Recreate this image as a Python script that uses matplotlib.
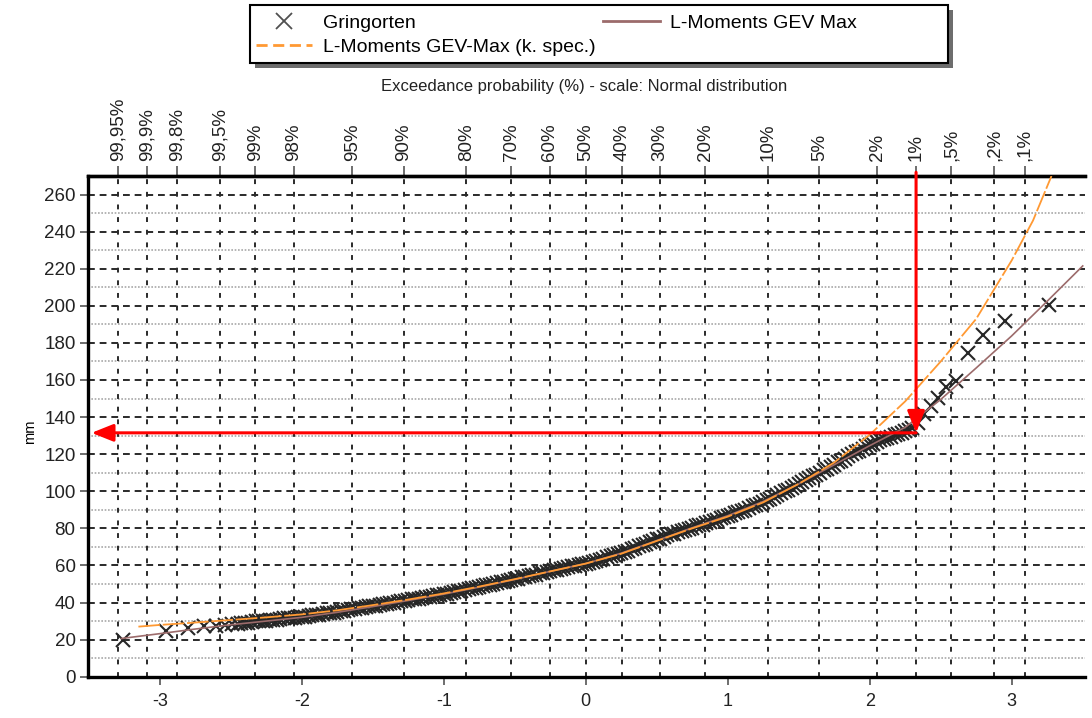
import matplotlib
matplotlib.use("Agg")
import matplotlib.pyplot as plt
from matplotlib.patches import Rectangle
from matplotlib.lines import Line2D
from statistics import NormalDist

plt.rcParams['font.family'] = ['Liberation Sans', 'DejaVu Sans']

# exceedance probabilities (%) shown on the top axis
exceed_pct = [99.95, 99.9, 99.8, 99.5, 99, 98, 95, 90, 80, 70, 60, 50,
              40, 30, 20, 10, 5, 2, 1, 0.5, 0.2, 0.1]
exceed_labels = ['99,95%', '99,9%', '99,8%', '99,5%', '99%', '98%', '95%', '90%',
                 '80%', '70%', '60%', '50%', '40%', '30%', '20%', '10%', '5%',
                 '2%', '1%', ',5%', ',2%', ',1%']

# Gringorten plotting positions (normal variate) and observed values (mm)
grin_x = [-3.26, -2.955, -2.80, -2.69, -2.607, -2.54, -2.49,
          -2.45, -2.40, -2.35, -2.30, -2.25, -2.20, -2.15, -2.10, -2.05, -2.00,
          -1.95, -1.90, -1.85, -1.80, -1.75, -1.70, -1.65, -1.60, -1.55, -1.50,
          -1.45, -1.40, -1.35, -1.30, -1.25, -1.20, -1.15, -1.10, -1.05, -1.00,
          -0.95, -0.90, -0.85, -0.80, -0.75, -0.70, -0.65, -0.60, -0.55, -0.50,
          -0.45, -0.40, -0.35, -0.30, -0.25, -0.20, -0.15, -0.10, -0.05, 0.00,
          0.05, 0.10, 0.15, 0.20, 0.25, 0.30, 0.35, 0.40, 0.45, 0.50,
          0.55, 0.60, 0.65, 0.70, 0.75, 0.80, 0.85, 0.90, 0.95, 1.00,
          1.05, 1.10, 1.15, 1.20, 1.25, 1.30, 1.35, 1.40, 1.45, 1.50,
          1.55, 1.60, 1.65, 1.70, 1.75, 1.80, 1.85, 1.90, 1.95, 2.00,
          2.05, 2.10, 2.15, 2.20, 2.25, 2.30,
          2.343, 2.385, 2.43, 2.48, 2.54, 2.607, 2.69, 2.80, 2.955, 3.26,
          -2.425, -2.375, -2.325, -2.275, -2.225, -2.175, -2.125, -2.075, -2.025,
          -1.975, -1.925, -1.875, -1.825, -1.775, -1.725, -1.675, -1.625, -1.575,
          -1.525, -1.475, -1.425, -1.375, -1.325, -1.275, -1.225, -1.175, -1.125,
          -1.075, -1.025, -0.975, -0.925, -0.875, -0.825, -0.775, -0.725, -0.675,
          -0.625, -0.575, -0.525, -0.475, -0.425, -0.375, -0.325, -0.275, -0.225,
          -0.175, -0.125, -0.075, -0.025, 0.025, 0.075, 0.125, 0.175, 0.225,
          0.275, 0.325, 0.375, 0.425, 0.475, 0.525, 0.575, 0.625, 0.675,
          0.725, 0.775, 0.825, 0.875, 0.925, 0.975, 1.025, 1.075, 1.125,
          1.175, 1.225, 1.275, 1.325, 1.375, 1.425, 1.475, 1.525, 1.575,
          1.625, 1.675, 1.725, 1.775, 1.825, 1.875, 1.925, 1.975, 2.025,
          2.075, 2.125, 2.175, 2.225, 2.275]
grin_y = [20.0, 24.8, 26.4, 27.4, 27.6, 28.0, 28.3,
          28.6, 29.1, 29.3, 29.9, 30.1, 30.7, 31.0, 31.5, 31.7, 32.3,
          32.7, 33.3, 33.7, 34.4, 34.9, 35.6, 36.3, 36.8, 37.5, 38.0,
          38.8, 39.3, 40.0, 40.6, 41.2, 41.9, 42.6, 43.2, 43.8, 44.6,
          45.2, 46.0, 46.8, 47.6, 48.4, 49.3, 50.0, 50.9, 51.7, 52.5,
          53.5, 54.3, 55.1, 56.0, 56.9, 57.8, 58.8, 59.6, 60.2, 60.9,
          62.0, 63.0, 64.3, 65.5, 66.7, 68.0, 69.6, 71.0, 72.6, 74.0,
          75.4, 76.8, 78.0, 79.3, 80.4, 81.6, 82.8, 84.0, 85.5, 86.8,
          88.2, 89.6, 91.0, 92.6, 94.2, 96.0, 98.0, 100.0, 102.0, 104.0,
          106.0, 108.0, 110.1, 112.2, 114.3, 116.5, 118.8, 121.0, 123.0, 125.0,
          126.6, 128.0, 129.5, 131.0, 132.3, 134.0,
          137.0, 141.5, 146.0, 150.5, 156.0, 159.5, 174.5, 184.0, 191.6, 200.6,
          29.0, 29.0, 29.8, 29.8, 30.6, 30.6, 31.4, 31.4, 32.1,
          32.4, 33.1, 33.4, 34.2, 34.5, 35.4, 35.8, 36.7, 37.0,
          37.9, 38.2, 39.2, 39.5, 40.5, 40.8, 41.7, 42.1, 43.0,
          43.4, 44.3, 44.8, 45.7, 46.3, 47.3, 47.9, 49.0, 49.5,
          50.6, 51.2, 52.2, 52.9, 54.0, 54.6, 55.7, 56.3, 57.5,
          58.2, 59.3, 59.8, 60.6, 61.3, 62.6, 63.5, 65.0, 65.9,
          67.5, 68.6, 70.4, 71.6, 73.4, 74.5, 76.2, 77.2, 78.8,
          79.7, 81.1, 82.0, 83.5, 84.6, 86.3, 87.3, 89.0, 90.1,
          91.9, 93.2, 95.2, 96.8, 99.1, 100.8, 103.1, 104.8, 107.1,
          108.8, 111.3, 113.0, 115.6, 117.4, 120.1, 121.8, 124.2, 125.6,
          127.4, 128.6, 130.4, 131.5, 133.3]

# L-Moments GEV Max
gev_x = [-3.27, -3.0, -2.75, -2.5, -2.25, -2.0, -1.75, -1.5, -1.25, -1.0, -0.75,
         -0.5, -0.25, 0.0, 0.25, 0.5, 0.75, 1.0, 1.25, 1.5, 1.75, 2.0, 2.25,
         2.5, 2.75, 3.0, 3.25, 3.5]
gev_y = [20.6, 23.2, 25.7, 28.0, 30.0, 32.0, 34.7, 37.8, 41.1, 44.5, 48.3,
         52.4, 56.8, 61.0, 66.6, 73.4, 80.3, 86.8, 94.5, 104.0, 114.3, 124.6, 134.5,
         149.5, 166.5, 183.8, 202.5, 221.5]

# L-Moments GEV-Max (k. spec.)
gevk_x = [-3.15, -3.0, -2.75, -2.5, -2.25, -2.0, -1.75, -1.5, -1.25, -1.0, -0.75,
          -0.5, -0.25, 0.0, 0.25, 0.5, 0.75, 1.0, 1.25, 1.5, 1.75, 2.0, 2.25,
          2.5, 2.75, 3.0, 3.15, 3.28]
gevk_y = [27.0, 27.9, 29.2, 30.6, 32.0, 33.6, 35.8, 38.6, 41.6, 44.9, 48.6,
          52.6, 56.8, 61.0, 66.3, 73.2, 80.0, 86.3, 94.0, 104.0, 115.5, 130.5, 148.5,
          170.0, 193.0, 224.5, 246.0, 270.0]

# design event (1 % exceedance)
event_p = 1
event_mm = 131.5

W, H = 1092, 718
fig = plt.figure(figsize=(W / 100, H / 100), dpi=100)
ax = fig.add_axes([88 / W, 41.3 / H, 997 / W, 500.7 / H])

nd = NormalDist()
top_pos = [nd.inv_cdf(1 - p / 100) for p in exceed_pct]

ax.set_xlim(-3.505, 3.516)
ax.set_ylim(0, 270)

# grid
for y in range(0, 261, 20):
    ax.axhline(y, color='#2a2a2a', lw=1.4, ls=(0, (3.5, 2.5)), zorder=1)
for y in range(10, 271, 20):
    ax.axhline(y, color='#a8a8a8', lw=1.2, ls=(0, (1, 1)), zorder=1)
for xp in top_pos:
    ax.axvline(xp, color='#2a2a2a', lw=1.4, ls=(0, (2.5, 4)), zorder=1)

ax.plot(grin_x, grin_y, ls='none', marker='x', ms=10, mew=1.5,
        color='#262626', zorder=3)
ax.plot(gev_x, gev_y, color='#9c6b6b', lw=1.2, zorder=4)
ax.plot(gevk_x, gevk_y, color='#ff9933', lw=1.3, ls=(0, (12, 1.5)), zorder=5)

# red reading arrows
z_event = nd.inv_cdf(1 - event_p / 100)
ax.annotate('', xy=(z_event, event_mm), xytext=(z_event, 272),
            arrowprops=dict(arrowstyle='-|>,head_length=0.55,head_width=0.22',
                            color='#ff0000', lw=2.2, mutation_scale=24,
                            shrinkA=0, shrinkB=0),
            annotation_clip=False, zorder=6)
ax.annotate('', xy=(-3.48, event_mm), xytext=(z_event, event_mm),
            arrowprops=dict(arrowstyle='-|>,head_length=0.55,head_width=0.22',
                            color='#ff0000', lw=2.2, mutation_scale=24,
                            shrinkA=0, shrinkB=0),
            annotation_clip=False, zorder=6)

# axes styling
for side in ['left', 'top', 'bottom']:
    ax.spines[side].set_linewidth(2.4)
    ax.spines[side].set_color('black')
ax.spines['right'].set_visible(False)

ax.set_yticks(range(0, 261, 20))
ax.set_xticks([-3, -2, -1, 0, 1, 2, 3])
ax.set_xticklabels(['-3', '-2', '-1', '0', '1', '2', '3'])
ax.tick_params(axis='y', labelsize=13.5, length=6, width=1.2, color='#555555',
               labelcolor='#222222', pad=3)
ax.tick_params(axis='x', labelsize=13, length=6, width=1.2, color='#555555',
               labelcolor='#222222', pad=6)

top = ax.secondary_xaxis('top')
top.set_xticks(top_pos)
top.set_xticklabels(exceed_labels, rotation=90, fontsize=13.5, color='#222222')
top.tick_params(length=7, width=1.2, color='#555555', pad=4)
top.spines['top'].set_linewidth(2.4)

fig.text(30 / W, 1 - 432 / H, 'mm', rotation=90, ha='center', va='center', fontsize=10.5)
fig.text(584 / W, 1 - 86 / H, 'Exceedance probability (%) - scale: Normal distribution',
         ha='center', va='center', fontsize=12, color='#222222')

# legend box with shadow
bx, by, bw, bh = 250 / W, 1 - 63 / H, 698 / W, 58 / H
fig.patches.append(Rectangle((bx + 5 / W, by - 5 / H), bw, bh, transform=fig.transFigure,
                             facecolor='#3c3c3c', edgecolor='none', alpha=0.75, zorder=0))
fig.patches.append(Rectangle((bx, by), bw, bh, transform=fig.transFigure,
                             facecolor='white', edgecolor='black', lw=1.5, zorder=1))

handles = [
    Line2D([], [], ls='none', marker='x', ms=11, mew=1.3, color='#505050'),
    Line2D([], [], color='#ff9933', lw=2, ls=(0, (4, 2))),
    Line2D([], [], color='#9c6b6b', lw=2),
]
labels = ['Gringorten', 'L-Moments GEV-Max (k. spec.)', 'L-Moments GEV Max']
fig.legend(handles, labels, ncol=2, loc='upper left',
           bbox_to_anchor=(252 / W, 1 - 10 / H), frameon=False, fontsize=14,
           handlelength=2.9, handletextpad=0.55, columnspacing=0.4,
           labelspacing=0.35, borderpad=0.2, borderaxespad=0)

fig.savefig('out.png', dpi=100)
